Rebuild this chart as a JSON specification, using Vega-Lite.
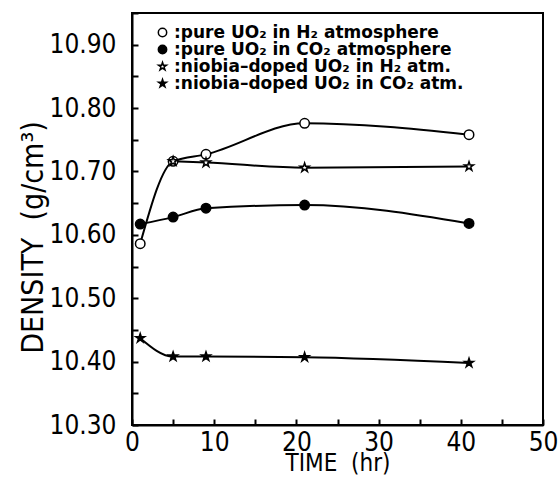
{
  "$schema": "https://vega.github.io/schema/vega-lite/v6.json",
  "autosize": "none",
  "width": 411,
  "height": 412,
  "padding": {"left": 132, "top": 13, "right": 16, "bottom": 54},
  "background": "white",
  "config": {
    "view": {"stroke": "black", "strokeWidth": 2},
    "font": "DejaVu Sans Condensed",
    "axis": {
      "grid": false,
      "domainColor": "black",
      "domainWidth": 2,
      "tickColor": "black",
      "tickWidth": 2,
      "tickSize": -6,
      "labelFont": "DejaVu Sans Condensed",
      "labelFontSize": 26,
      "labelColor": "black",
      "titleFont": "DejaVu Sans Condensed",
      "titleFontWeight": "normal",
      "titleColor": "black"
    },
    "legend": {
      "orient": "none",
      "legendX": 22,
      "legendY": 11,
      "padding": 0,
      "rowPadding": -4,
      "labelFont": "DejaVu Sans",
      "labelFontSize": 17,
      "labelFontWeight": "bold",
      "labelColor": "black",
      "labelLimit": 400,
      "labelOffset": 3,
      "symbolSize": 70,
      "symbolStrokeColor": "black",
      "symbolStrokeWidth": 1.5
    }
  },
  "data": {
    "values": [
      {"series": ":pure UO₂ in H₂ atmosphere", "time": 1, "density": 10.586},
      {"series": ":pure UO₂ in H₂ atmosphere", "time": 5, "density": 10.716},
      {"series": ":pure UO₂ in H₂ atmosphere", "time": 9, "density": 10.727},
      {"series": ":pure UO₂ in H₂ atmosphere", "time": 21, "density": 10.776},
      {"series": ":pure UO₂ in H₂ atmosphere", "time": 41, "density": 10.758},
      {"series": ":pure UO₂ in CO₂ atmosphere", "time": 1, "density": 10.617},
      {"series": ":pure UO₂ in CO₂ atmosphere", "time": 5, "density": 10.628},
      {"series": ":pure UO₂ in CO₂ atmosphere", "time": 9, "density": 10.642},
      {"series": ":pure UO₂ in CO₂ atmosphere", "time": 21, "density": 10.647},
      {"series": ":pure UO₂ in CO₂ atmosphere", "time": 41, "density": 10.618},
      {"series": ":niobia–doped UO₂ in H₂ atm.", "time": 5, "density": 10.716},
      {"series": ":niobia–doped UO₂ in H₂ atm.", "time": 9, "density": 10.714},
      {"series": ":niobia–doped UO₂ in H₂ atm.", "time": 21, "density": 10.706},
      {"series": ":niobia–doped UO₂ in H₂ atm.", "time": 41, "density": 10.708},
      {"series": ":niobia–doped UO₂ in CO₂ atm.", "time": 1, "density": 10.437},
      {"series": ":niobia–doped UO₂ in CO₂ atm.", "time": 5, "density": 10.408},
      {"series": ":niobia–doped UO₂ in CO₂ atm.", "time": 9, "density": 10.408},
      {"series": ":niobia–doped UO₂ in CO₂ atm.", "time": 21, "density": 10.407},
      {"series": ":niobia–doped UO₂ in CO₂ atm.", "time": 41, "density": 10.398}
    ]
  },
  "encoding": {
    "x": {
      "field": "time",
      "type": "quantitative",
      "scale": {"domain": [0, 50], "nice": false},
      "axis": {
        "title": "TIME\u00a0\u00a0(hr)",
        "titleFontSize": 24,
        "values": [0, 5, 10, 15, 20, 25, 30, 35, 40, 45, 50],
        "labelExpr": "datum.value % 10 === 0 ? datum.label : ''",
        "labelPadding": 10,
        "titlePadding": -4,
        "labelFlush": false
      }
    },
    "y": {
      "field": "density",
      "type": "quantitative",
      "scale": {"domain": [10.3, 10.95], "nice": false, "zero": false},
      "axis": {
        "title": "DENSITY\u00a0\u00a0(g/cm³)",
        "titleFontSize": 30,
        "titleY": 224,
        "values": [10.3, 10.35, 10.4, 10.45, 10.5, 10.55, 10.6, 10.65, 10.7, 10.75, 10.8, 10.85, 10.9, 10.95],
        "labelExpr": "round(datum.value * 100) % 10 === 0 ? format(datum.value, '.2f') : ''",
        "labelPadding": 22,
        "titlePadding": 1,
        "labelFlush": false
      }
    }
  },
  "layer": [
    {
      "mark": {"type": "line", "color": "black", "strokeWidth": 2, "interpolate": "monotone"},
      "encoding": {"detail": {"field": "series"}}
    },
    {
      "mark": {"type": "point", "filled": true, "strokeWidth": 1.5, "opacity": 1, "size": 90},
      "encoding": {
        "shape": {
          "field": "series",
          "type": "nominal",
          "sort": null,
          "scale": {
            "domain": [":pure UO₂ in H₂ atmosphere", ":pure UO₂ in CO₂ atmosphere", ":niobia–doped UO₂ in H₂ atm.", ":niobia–doped UO₂ in CO₂ atm."],
            "range": ["circle", "circle", "M0,-1L0.2245,-0.309L0.951,-0.309L0.363,0.118L0.588,0.809L0,0.382L-0.588,0.809L-0.363,0.118L-0.951,-0.309L-0.2245,-0.309Z", "M0,-1L0.2245,-0.309L0.951,-0.309L0.363,0.118L0.588,0.809L0,0.382L-0.588,0.809L-0.363,0.118L-0.951,-0.309L-0.2245,-0.309Z"]
          },
          "legend": {"title": null}
        },
        "fill": {
          "field": "series",
          "type": "nominal",
          "sort": null,
          "scale": {
            "domain": [":pure UO₂ in H₂ atmosphere", ":pure UO₂ in CO₂ atmosphere", ":niobia–doped UO₂ in H₂ atm.", ":niobia–doped UO₂ in CO₂ atm."],
            "range": ["white", "black", "white", "black"]
          },
          "legend": {"title": null}
        },
        "stroke": {
          "field": "series",
          "type": "nominal",
          "sort": null,
          "scale": {
            "domain": [":pure UO₂ in H₂ atmosphere", ":pure UO₂ in CO₂ atmosphere", ":niobia–doped UO₂ in H₂ atm.", ":niobia–doped UO₂ in CO₂ atm."],
            "range": ["black", "black", "black", "black"]
          },
          "legend": {"title": null}
        }
      }
    }
  ]
}
